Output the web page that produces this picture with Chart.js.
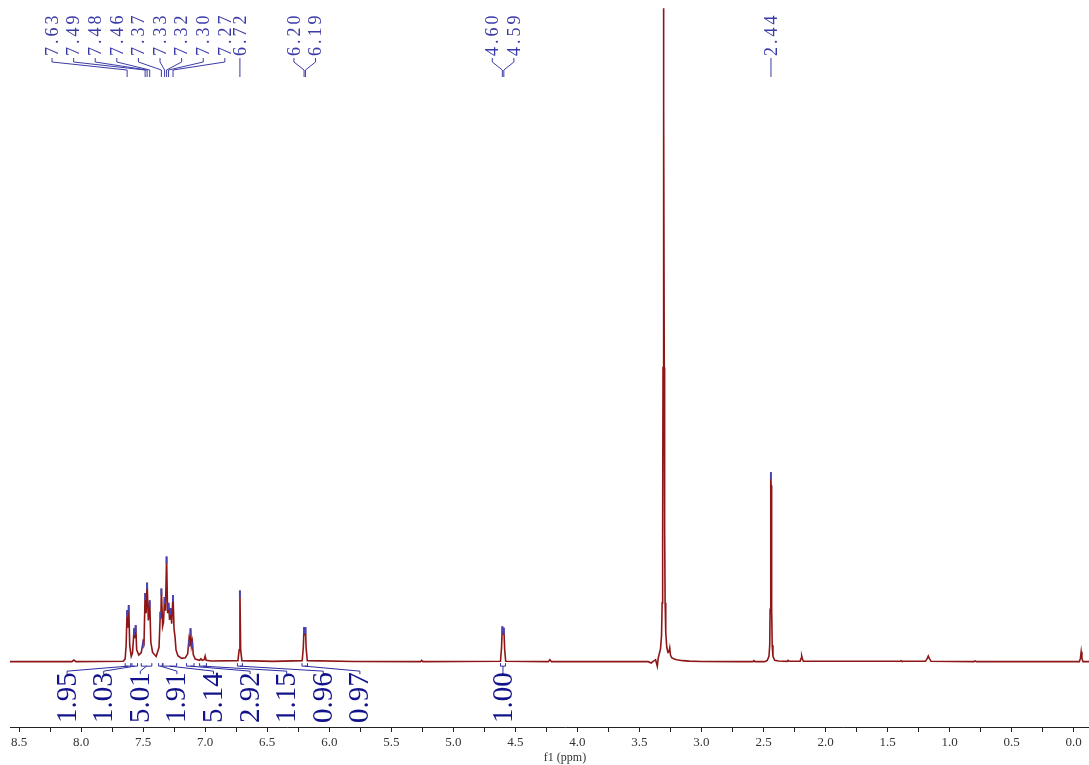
<!DOCTYPE html>
<html><head><meta charset="utf-8">
<script src="https://cdn.jsdelivr.net/npm/chart.js@4.4.1/dist/chart.umd.min.js"></script>
<style>
html,body{margin:0;padding:0;background:#fff;overflow:hidden}
#wrap{position:absolute;left:0;top:0;width:1120px;height:765px}
</style></head><body>
<div id="wrap"><canvas id="c" width="1120" height="765"></canvas></div>
<script>
// ---- spectrum ----
const specPpm = [8.573,8.075,8.058,8.042,7.660,7.645,7.637,7.629,7.623,7.616,7.608,7.596,7.586,7.579,7.573,7.567,7.560,7.552,7.535,7.515,7.506,7.500,7.493,7.484,7.476,7.468,7.458,7.447,7.438,7.424,7.395,7.372,7.361,7.357,7.353,7.343,7.336,7.327,7.320,7.311,7.303,7.295,7.287,7.279,7.270,7.259,7.251,7.243,7.235,7.220,7.190,7.160,7.141,7.131,7.125,7.118,7.111,7.104,7.096,7.080,7.045,7.034,7.024,7.008,7.000,6.992,6.950,6.736,6.726,6.720,6.714,6.704,6.450,6.218,6.209,6.203,6.198,6.192,6.186,6.177,5.800,5.265,5.255,5.245,4.620,4.612,4.605,4.599,4.593,4.586,4.578,4.235,4.222,4.209,3.430,3.405,3.390,3.370,3.356,3.349,3.340,3.330,3.322,3.317,3.313,3.310,3.307,3.305,3.303,3.300,3.297,3.293,3.288,3.280,3.270,3.262,3.256,3.250,3.240,3.225,3.200,3.150,3.100,3.000,2.700,2.585,2.577,2.569,2.490,2.470,2.456,2.450,2.447,2.444,2.441,2.440,2.439,2.436,2.433,2.430,2.424,2.410,2.380,2.310,2.302,2.294,2.205,2.197,2.192,2.187,2.179,1.400,1.392,1.384,1.195,1.180,1.172,1.164,1.150,0.805,0.795,0.785,0.010,-0.045,-0.054,-0.060,-0.066,-0.075,-0.373];
const specInt = [0,0,0.25,0,0.05,0.4,2.5,7.9,5.2,8.65,2.4,0.8,1.3,3.2,5.1,3.6,5.6,1.8,1.0,1.4,2.4,3.1,2.8,10.5,7.4,12.1,6.3,9.4,3.0,1.4,0.8,2.2,7.65,6.6,11.2,5.4,6.0,9.9,7.8,16.1,7.4,9.0,6.4,8.2,5.8,10.2,5.0,3.8,1.8,0.9,0.5,0.6,1.2,3.3,2.4,5.1,2.4,3.1,1.1,0.4,0.2,0.45,0.2,0.3,0.85,0.2,0.1,0.15,1.8,10.9,1.8,0.15,0.05,0.15,2.2,5.3,4.0,5.3,2.0,0.15,0.03,0,0.2,0,0.05,2.0,5.4,4.2,5.2,1.8,0.05,0,0.3,0,0,-0.2,0.05,0.3,-0.7,0.5,1.2,2.0,4.0,9.0,20,45,85,100,85,45,20,9.0,4.5,2.2,1.4,1.5,2.1,1.0,0.6,0.45,0.3,0.15,0.08,0.02,0,0,0.15,0,0,0.2,0.8,2.5,8,18,27,29,27,18,8,2.5,0.8,0.2,0.1,0.05,0.2,0.05,0.05,0.5,0.85,0.5,0.05,0.05,0.15,0.05,0.05,0.5,0.85,0.5,0.05,0,0.1,0,0,0,0.5,1.5,0.5,0,0];

// ---- peak picking labels ----
const peakLabels = ['7.63','7.49','7.48','7.46','7.37','7.33','7.32','7.30','7.27','6.72','6.20','6.19','4.60','4.59','2.44'];
const peakPpm    = [7.629,7.484,7.468,7.447,7.353,7.327,7.311,7.295,7.259,6.720,6.203,6.192,4.605,4.593,2.440];
const peakGroup  = [0,0,0,0,0,0,0,0,0,1,2,2,3,3,4];

// ---- integrals ----
const integLabels = ['1.95','1.03','5.01','1.91','5.14','2.92','1.15','0.96','0.97','1.00'];
const integFrom   = [7.645,7.590,7.515,7.375,7.340,7.150,7.045,6.740,6.220,4.620];
const integTo     = [7.600,7.545,7.430,7.345,7.230,7.090,6.990,6.700,6.175,4.580];
const integGroup  = [0,0,0,0,0,0,0,0,0,1];

// ---- axis ----
const axisTicks = [];
for (let v = -0.25; v <= 8.5001; v += 0.25) axisTicks.push(Math.round(v*100)/100);
const axisTitle = 'f1 (ppm)';

const points = specPpm.map((p,i)=>({x:p,y:specInt[i]}));

const annot = {
  id:'annot',
  afterDatasetsDraw(chart){
    const ctx = chart.ctx, xs = chart.scales.x, ys = chart.scales.y;
    const px = v => xs.getPixelForValue(v);
    const py = v => ys.getPixelForValue(v);
    const base = py(0);
    // peak pick markers on local maxima
    ctx.save();
    ctx.strokeStyle = 'rgba(60,75,205,0.85)';
    ctx.lineWidth = 2;
    for (let i=1;i<specInt.length-1;i++){
      const h = specInt[i];
      if (h>2.5 && h<50 && h>=specInt[i-1] && h>=specInt[i+1]){
        const x = px(specPpm[i]), y = py(h);
        ctx.beginPath(); ctx.moveTo(x,y); ctx.lineTo(x,y+7); ctx.stroke();
      }
    }
    ctx.restore();

    // top labels
    const step = 21.6;
    const groups = {};
    peakGroup.forEach((g,i)=>{(groups[g]=groups[g]||[]).push(i);});
    const lx = [];
    Object.keys(groups).forEach(g=>{
      const idx = groups[g];
      let c;
      if (+g===0) c = px(7.538);
      else c = idx.reduce((s,i)=>s+px(peakPpm[i]),0)/idx.length;
      idx.forEach((i,k)=>{ lx[i] = c + (k-(idx.length-1)/2)*step; });
    });
    ctx.save();
    ctx.fillStyle = '#3b3ba8';
    ctx.strokeStyle = '#3b3ba8';
    ctx.lineWidth = 1;
    ctx.font = '18px "Liberation Serif"';
    ctx.letterSpacing = '3px';
    ctx.textAlign = 'left'; ctx.textBaseline = 'middle';
    peakLabels.forEach((t,i)=>{
      ctx.save(); ctx.translate(lx[i]+1, 56); ctx.rotate(-Math.PI/2); ctx.fillText(t,0,0); ctx.restore();
      const x = px(peakPpm[i]);
      ctx.beginPath();
      ctx.moveTo(lx[i],58); ctx.lineTo(lx[i],62); ctx.lineTo(x,70); ctx.lineTo(x,77);
      ctx.stroke();
    });
    ctx.restore();

    // integrals
    const istep = 36.6;
    const ig = {};
    integGroup.forEach((g,i)=>{(ig[g]=ig[g]||[]).push(i);});
    const ilx = [];
    Object.keys(ig).forEach(g=>{
      const idx = ig[g];
      let c;
      if (+g===0) c = px(6.933);
      else c = idx.reduce((s,i)=>s+(px(integFrom[i])+px(integTo[i]))/2,0)/idx.length;
      idx.forEach((i,k)=>{ ilx[i] = c + (k-(idx.length-1)/2)*istep; });
    });
    ctx.save();
    ctx.strokeStyle = '#2a2aa0';
    ctx.lineWidth = 1;
    const yb = base + 4.5;
    integLabels.forEach((t,i)=>{
      const a = px(integFrom[i]), b = px(integTo[i]), m=(a+b)/2;
      ctx.beginPath();
      ctx.moveTo(a, yb-3); ctx.lineTo(a, yb); ctx.lineTo(b, yb); ctx.lineTo(b, yb-3);
      ctx.stroke();
      ctx.beginPath();
      ctx.moveTo(m, yb); ctx.lineTo(ilx[i], yb+5); ctx.lineTo(ilx[i], yb+8);
      ctx.stroke();
    });
    ctx.fillStyle = '#12128a';
    ctx.font = '29px "Liberation Serif"';
    ctx.textAlign = 'left'; ctx.textBaseline = 'middle';
    integLabels.forEach((t,i)=>{
      ctx.save(); ctx.translate(ilx[i]+1, 723); ctx.rotate(-Math.PI/2); ctx.fillText(t,0,0); ctx.restore();
    });
    ctx.restore();
  }
};

new Chart(document.getElementById('c'), {
  type:'line',
  data:{datasets:[{data:points, borderColor:'#8f1616', borderWidth:1.6, pointRadius:0, tension:0, fill:false}]},
  options:{
    responsive:false, animation:false, devicePixelRatio:1,
    parsing:false, normalized:true,
    layout:{padding:{left:10,right:0,top:0,bottom:0}},
    plugins:{legend:{display:false}, tooltip:{enabled:false}},
    scales:{
      x:{type:'linear', reverse:true, min:-0.373, max:8.573,
         afterBuildTicks: s => { s.ticks = axisTicks.map(v=>({value:v})); },
         afterFit: s => { s.paddingLeft = 0; s.paddingRight = 0; s.height = 38; },
         ticks:{autoSkip:false, maxRotation:0, minRotation:0, padding:3, color:'#333',
                font:{family:'"Liberation Serif"', size:13},
                callback: v => (Math.abs(v*2-Math.round(v*2))<1e-6 && v>=0) ? v.toFixed(1) : ''},
         grid:{drawOnChartArea:false, drawTicks:true, tickLength:5, color:'#222'},
         border:{display:true, color:'#222', width:1},
         title:{display:true, text:axisTitle, color:'#333', font:{family:'"Liberation Serif"', size:12}, padding:{top:0,bottom:0}}
      },
      y:{display:false, min:-10, max:101.25}
    }
  },
  plugins:[annot]
});
</script>
</body></html>
